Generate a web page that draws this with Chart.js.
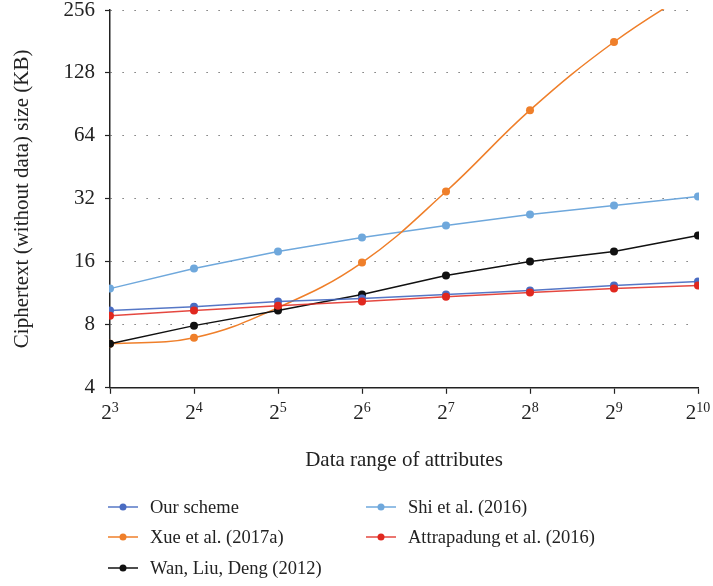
<!DOCTYPE html>
<html>
<head>
<meta charset="utf-8">
<script src="https://cdn.jsdelivr.net/npm/chart.js@4.4.1/dist/chart.umd.min.js"></script>
<style>
  html, body { margin: 0; padding: 0; background: #fff; }
  #wrap { width: 713px; height: 586px; position: relative; }
</style>
</head>
<body>
<div id="wrap"><canvas id="cipherChart"></canvas></div>
<script>
// データ
const xExponents = [3, 4, 5, 6, 7, 8, 9, 10];
const yTicks = [4, 8, 16, 32, 64, 128, 256];
const seriesNames = ['Our scheme', 'Xue et al. (2017a)', 'Wan, Liu, Deng (2012)', 'Shi et al. (2016)', 'Attrapadung et al. (2016)'];
const ourScheme = [9.36, 9.77, 10.33, 10.68, 11.16, 11.66, 12.32, 12.88];
const xue = [6.5, 6.94, 9.67, 15.88, 34.7, 85, 180, 330];
const wan = [6.5, 7.93, 9.36, 11.16, 13.76, 16.06, 17.93, 21.4];
const shi = [11.92, 14.87, 17.93, 20.93, 23.88, 26.97, 29.79, 32.9];
const attrapadung = [8.85, 9.36, 9.88, 10.33, 10.91, 11.41, 11.92, 12.32];

const serif = "'Liberation Serif', 'DejaVu Serif', serif";
Chart.defaults.font.family = serif;
Chart.defaults.color = '#222';

let toPoints = function(vals) {
  return vals.map((v, i) => ({ x: xExponents[i], y: v }));
};

let makeSet = function(idx, vals, color, lineColor, tension, order) {
  return {
    label: seriesNames[idx],
    data: toPoints(vals),
    borderColor: lineColor,
    backgroundColor: color,
    pointBackgroundColor: color,
    pointBorderColor: color,
    pointRadius: 4,
    pointBorderWidth: 0,
    borderWidth: 1.5,
    tension: tension,
    order: order,
    clip: 1
  };
};

let datasets = [
  makeSet(0, ourScheme, '#4a6cc2', 'rgba(68,104,192,0.9)', 0, 2),
  makeSet(1, xue, '#ef7f2a', '#ef7f2a', 0.4, 4),
  makeSet(2, wan, '#111111', '#111111', 0, 3),
  makeSet(3, shi, '#6fa8dc', '#6fa8dc', 0, 5),
  makeSet(4, attrapadung, '#e0281f', 'rgba(224,40,31,0.85)', 0, 1)
];

// 凡例の位置（列, 行）
const legendSlots = [[0, 0], [0, 1], [0, 2], [1, 0], [1, 1]];

// x軸ラベル(2のべき乗)と凡例を描くプラグイン
const customDraw = {
  id: 'customDraw',
  afterDraw(chart) {
    const ctx = chart.ctx;
    const xs = chart.scales.x;
    ctx.save();
    ctx.fillStyle = '#222';
    ctx.textBaseline = 'alphabetic';
    xExponents.forEach(function(e) {
      const px = xs.getPixelForValue(e);
      ctx.font = '21px ' + serif;
      const w1 = ctx.measureText('2').width;
      ctx.font = '14px ' + serif;
      const w2 = ctx.measureText(String(e)).width;
      const left = px - (w1 + w2) / 2;
      ctx.font = '21px ' + serif;
      ctx.textAlign = 'left';
      ctx.fillText('2', left, 419);
      ctx.font = '14px ' + serif;
      ctx.fillText(String(e), left + w1, 412);
    });

    // 凡例
    const colX = [108, 366];
    const rowY = [507, 537, 568];
    ctx.font = '18.5px ' + serif;
    ctx.textBaseline = 'middle';
    chart.data.datasets.forEach(function(ds, i) {
      const slot = legendSlots[i];
      const x0 = colX[slot[0]];
      const y0 = rowY[slot[1]];
      ctx.globalAlpha = 0.75;
      ctx.strokeStyle = ds.borderColor;
      ctx.lineWidth = 2;
      ctx.beginPath();
      ctx.moveTo(x0, y0);
      ctx.lineTo(x0 + 30, y0);
      ctx.stroke();
      ctx.globalAlpha = 1;
      ctx.fillStyle = ds.pointBackgroundColor;
      ctx.beginPath();
      ctx.arc(x0 + 15, y0, 3.5, 0, Math.PI * 2);
      ctx.fill();
      ctx.fillStyle = '#222';
      ctx.textAlign = 'left';
      ctx.fillText(ds.label, x0 + 42, y0 + 1);
    });
    ctx.restore();
  }
};

let chart = new Chart(document.getElementById('cipherChart'), {
  type: 'line',
  data: { datasets: datasets },
  plugins: [customDraw],
  options: {
    responsive: true,
    maintainAspectRatio: false,
    animation: false,
    layout: { padding: { top: 10, right: 15, left: 0, bottom: 109 } },
    plugins: {
      legend: { display: false },
      tooltip: { enabled: false }
    },
    scales: {
      x: {
        type: 'linear',
        min: 3,
        max: 10,
        afterBuildTicks: function(scale) {
          scale.ticks = xExponents.map(v => ({ value: v }));
        },
        ticks: { display: false },
        grid: {
          drawOnChartArea: false,
          drawTicks: true,
          tickLength: 6,
          tickColor: '#222',
          tickWidth: 1.2
        },
        border: { display: true, color: '#222', width: 1.5 },
        title: {
          display: true,
          text: 'Data range of attributes',
          font: { size: 21 },
          color: '#222',
          padding: { top: 54, bottom: 4 }
        }
      },
      y: {
        type: 'logarithmic',
        min: 4,
        max: 256,
        afterBuildTicks: function(scale) {
          scale.ticks = yTicks.map(v => ({ value: v }));
        },
        afterFit: function(scale) {
          scale.width = 110;
          scale.paddingTop = 0;
          scale.paddingBottom = 0;
        },
        ticks: {
          font: { size: 21 },
          color: '#222',
          padding: 10,
          callback: function(v) { return String(v); }
        },
        grid: {
          color: '#555',
          lineWidth: 1,
          drawTicks: true,
          tickLength: 5,
          tickColor: '#222',
          tickWidth: 1.2,
          tickBorderDash: []
        },
        border: { display: true, color: '#222', width: 1.5, dash: [1.2, 10.8], dashOffset: 0 },
        title: {
          display: true,
          text: 'Ciphertext (without data) size (KB)',
          font: { size: 21 },
          color: '#222',
          padding: { top: 10, bottom: 4 }
        }
      }
    }
  }
});
</script>
</body>
</html>
